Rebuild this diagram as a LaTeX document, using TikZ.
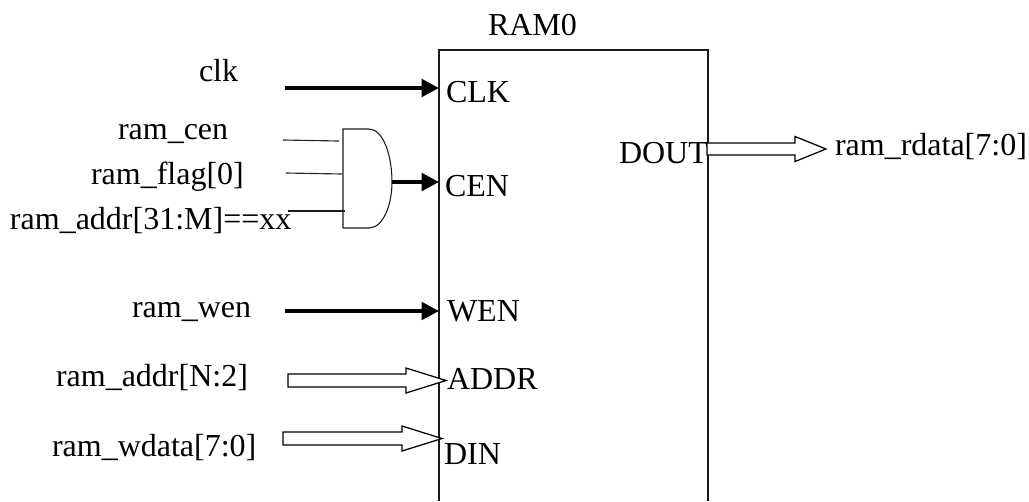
\documentclass[tikz,border=0pt]{standalone}
\usepackage{fontspec}
\setmainfont{Liberation Serif}
\usetikzlibrary{arrows.meta}
\tikzset{
  x=0.75pt,y=-0.75pt,
  lbl/.style={anchor=base west,inner sep=0pt,outer sep=0pt,font=\fontsize{24pt}{28pt}\selectfont},
  wire/.style={draw=black!90,line width=0.8pt},
  thin wire/.style={draw=black!85,line width=0.85pt},
  bold arrow/.style={draw=black,line width=3pt,-{Triangle[length=13pt,width=13pt]}},
  bus/.style={draw=black,fill=white,line width=0.95pt,line join=miter}
}
\newcommand{\busarrow}[5]{%
  \pgfmathsetmacro{\ymid}{(#2+#3)/2}
  \draw[bus] (#1,#2) -- (#4,#2) -- (#4,\ymid-12.5) -- (#5,\ymid) -- (#4,\ymid+12.5) -- (#4,#3) -- (#1,#3) -- cycle;
}
\begin{document}
\begin{tikzpicture}
\useasboundingbox (0,0) rectangle (1029,501);
% block, open at the bottom
\coordinate (bl) at (439,501);
\coordinate (tl) at (439,50);
\coordinate (tr) at (708,50);
\coordinate (br) at (708,501);
\draw[wire] (bl) -- (tl) -- (tr) -- (br);
% labels
\node[lbl] (ram0) at (488,35) {RAM0};
\node[lbl] (clkp) at (446,102) {CLK};
\node[lbl] (cenp) at (445,196) {CEN};
\node[lbl] (wenp) at (447,321) {WEN};
\node[lbl] (addrp) at (447,389) {ADDR};
\node[lbl] (dinp) at (444,464) {DIN};
\node[lbl] (doutp) at (619,163) {DOUT};
\node[lbl] (clk) at (199,81) {clk};
\node[lbl] (cen) at (118,139) {ram\_cen};
\node[lbl] (flag) at (91,184) {ram\_flag[0]};
\node[lbl] (ma) at (10,229) {ram\_addr[31:M]==xx};
\node[lbl] (wen) at (132,317) {ram\_wen};
\node[lbl] (na) at (56,386) {ram\_addr[N:2]};
\node[lbl] (wd) at (52,456) {ram\_wdata[7:0]};
\node[lbl] (rd) at (835,155) {ram\_rdata[7:0]};
% AND gate
\coordinate (g1) at (343,129);
\coordinate (g2) at (343,228);
\coordinate (gout) at (392,182);
\draw[wire] (g2) -- (g1) -- (369,129) .. controls (383,129) and (392,155) .. (gout) .. controls (392,205) and (383,228) .. (369,228) -- (g2);
% gate inputs
\coordinate (i1a) at (283,140); \coordinate (i1b) at (339,141);
\coordinate (i2a) at (286,173); \coordinate (i2b) at (342,174);
\coordinate (i3a) at (288,211); \coordinate (i3b) at (345,211);
\draw[thin wire] (i1a) -- (i1b);
\draw[thin wire] (i2a) -- (i2b);
\draw[wire] (i3a) -- (i3b);
% bold arrows
\coordinate (cs) at (285,88); \coordinate (ce) at (439,88);
\coordinate (cene) at (439,182);
\coordinate (ws) at (285,311); \coordinate (we) at (439,311);
\draw[bold arrow] (cs) -- (ce);
\draw[bold arrow] (gout) -- (cene);
\draw[bold arrow] (ws) -- (we);
% bus arrows
\busarrow{288}{374}{387}{406}{446}
\busarrow{283}{432}{445}{402}{442}
\busarrow{707}{143}{155}{795}{826}
\end{tikzpicture}
\end{document}
